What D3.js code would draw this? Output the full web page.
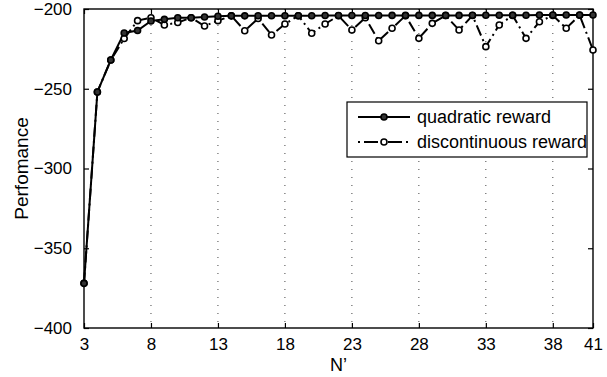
<!DOCTYPE html>
<html lang="en">
  <head>
    <meta charset="utf-8">
    <title>Performance vs N'</title>
    <script src="https://cdnjs.cloudflare.com/ajax/libs/d3/7.8.5/d3.min.js"></script>
<style>
  body { margin: 0; background: #fff; }
  svg { display: block; font-family: "Liberation Sans", Arial, Helvetica, sans-serif; }
  .tick-label { font-size: 17px; fill: #000; }
  .axis-label { font-size: 18px; fill: #000; }
  .legend-text { font-size: 18px; fill: #000; }
</style>
  </head>
  <body>
<div id="graph"></div>

<script type="text/javascript">
// N' values on the x axis
const nPrime = [3, 4, 5, 6, 7, 8, 9, 10, 11, 12, 13, 14, 15, 16, 17, 18, 19, 20, 21, 22,
                23, 24, 25, 26, 27, 28, 29, 30, 31, 32, 33, 34, 35, 36, 37, 38, 39, 40, 41];

// quadratic reward (solid, filled markers)
const quadratic = [-372, -252, -232, -215, -213.5, -207.5, -206.5, -205.5, -205.5, -205,
                   -204.5, -204.3, -204.3, -204.2, -204.2, -204.2, -204.2, -204.2, -204.1, -204.1,
                   -204.1, -204.1, -204.1, -204, -204, -204, -204, -204, -204, -203.9,
                   -203.9, -203.9, -203.9, -203.9, -203.8, -203.8, -203.8, -203.8, -203.8];

// discontinuous reward (dash-dot, open markers)
const discontinuous = [-372, -252, -232, -218.5, -207.3, -205.5, -210, -208.5, -205.5, -210.7,
                       -207.3, -204.3, -213.6, -206, -216.3, -209.4, -204.2, -215.2, -209.4, -204.2,
                       -213.2, -205.5, -219.9, -212.1, -204.2, -218.4, -209, -204.1, -213.2, -204.1,
                       -223.6, -210, -204, -218.4, -208, -204, -212.1, -203.9, -225.7];

const xTicks = [3, 8, 13, 18, 23, 28, 33, 38, 41];
const yTicks = [-400, -350, -300, -250, -200];
const seriesNames = ["quadratic reward", "discontinuous reward"];

const full_w = 607, full_h = 377;
const margin = {top: 9, right: 14, bottom: 49, left: 84};
const w = full_w - margin.left - margin.right;
const h = full_h - margin.top - margin.bottom;
const dashDot = "11,4,2,4";

const svg = d3.select("#graph").append("svg")
  .attr("width", full_w)
  .attr("height", full_h);

const xScale = d3.scaleLinear().domain([3, 41]).range([margin.left, margin.left + w]);
const yScale = d3.scaleLinear().domain([-400, -200]).range([margin.top + h, margin.top]);

// vertical dotted grid
svg.append("g")
  .selectAll("line")
  .data(xTicks.filter(t => t != 3 && t != 41))
  .enter().append("line")
  .attr("x1", d => xScale(d)).attr("x2", d => xScale(d))
  .attr("y1", margin.top).attr("y2", margin.top + h)
  .attr("stroke", "#444")
  .attr("stroke-width", 1)
  .attr("stroke-dasharray", "1,7");

// bottom axis (inward ticks)
const xAxis = d3.axisBottom(xScale).tickValues(xTicks).tickSizeInner(-5).tickSizeOuter(0).tickPadding(10);
const gx = svg.append("g")
  .attr("transform", "translate(0," + (margin.top + h) + ")")
  .call(xAxis);
// top ticks
const gxt = svg.append("g")
  .attr("transform", "translate(0," + margin.top + ")")
  .call(d3.axisTop(xScale).tickValues(xTicks).tickSizeInner(-5).tickSizeOuter(0).tickFormat(""));

// left axis
const yAxis = d3.axisLeft(yScale).tickValues(yTicks).tickSizeInner(-5).tickSizeOuter(0).tickPadding(12)
  .tickFormat(d => d3.format("d")(d).replace("-", "\u2212"));
const gy = svg.append("g")
  .attr("transform", "translate(" + margin.left + ",0)")
  .call(yAxis);
const gyr = svg.append("g")
  .attr("transform", "translate(" + (margin.left + w) + ",0)")
  .call(d3.axisRight(yScale).tickValues(yTicks).tickSizeInner(-5).tickSizeOuter(0).tickFormat(""));

[gx, gxt, gy, gyr].forEach(g => {
  g.select(".domain").remove();
  g.selectAll(".tick line").attr("stroke", "#000").attr("stroke-width", 1.2);
  g.selectAll(".tick text").attr("class", "tick-label").attr("font-size", null).attr("font-family", null);
});

// box
svg.append("rect")
  .attr("x", margin.left).attr("y", margin.top)
  .attr("width", w).attr("height", h)
  .attr("fill", "none")
  .attr("stroke", "#000")
  .attr("stroke-width", 1.4);

// axis labels
svg.append("text")
  .attr("x", margin.left + w / 2)
  .attr("y", 371)
  .attr("text-anchor", "middle")
  .attr("class", "axis-label")
  .text("N\u2019");

svg.append("text")
  .attr("transform", "translate(28," + (margin.top + h / 2) + ") rotate(-90)")
  .attr("text-anchor", "middle")
  .attr("class", "axis-label")
  .style("font-size", "19px")
  .text("Perfomance");

// series
const line = d3.line().x(d => xScale(d[0])).y(d => yScale(d[1]));
const quadPts = nPrime.map((n, i) => [n, quadratic[i]]);
const discPts = nPrime.map((n, i) => [n, discontinuous[i]]);

svg.append("path")
  .datum(discPts)
  .attr("d", line)
  .attr("fill", "none")
  .attr("stroke", "#000")
  .attr("stroke-width", 2)
  .attr("stroke-dasharray", dashDot);

svg.append("path")
  .datum(quadPts)
  .attr("d", line)
  .attr("fill", "none")
  .attr("stroke", "#000")
  .attr("stroke-width", 2);

svg.selectAll(".disc")
  .data(discPts)
  .enter().append("circle")
  .attr("class", "disc")
  .attr("cx", d => xScale(d[0]))
  .attr("cy", d => yScale(d[1]))
  .attr("r", 3)
  .attr("fill", "#fff")
  .attr("stroke", "#000")
  .attr("stroke-width", 1.6);

svg.selectAll(".quad")
  .data(quadPts)
  .enter().append("circle")
  .attr("class", "quad")
  .attr("cx", d => xScale(d[0]))
  .attr("cy", d => yScale(d[1]))
  .attr("r", 3)
  .attr("fill", "#333")
  .attr("stroke", "#000")
  .attr("stroke-width", 1.6);

// legend
const legend = svg.append("g").attr("transform", "translate(347,102)");
legend.append("rect")
  .attr("width", 240).attr("height", 55)
  .attr("fill", "#fff")
  .attr("stroke", "#000")
  .attr("stroke-width", 1.2);

seriesNames.forEach((name, i) => {
  const yy = 15 + i * 25;
  legend.append("line")
    .attr("x1", 11).attr("x2", 63)
    .attr("y1", yy).attr("y2", yy)
    .attr("stroke", "#000")
    .attr("stroke-width", 2)
    .attr("stroke-dasharray", i == 0 ? null : "2,4,14,10,14,4,2");
  legend.append("circle")
    .attr("cx", 37).attr("cy", yy)
    .attr("r", 3)
    .attr("fill", i == 0 ? "#333" : "#fff")
    .attr("stroke", "#000")
    .attr("stroke-width", 1.6);
  legend.append("text")
    .attr("x", 70).attr("y", yy)
    .attr("dy", "0.35em")
    .attr("class", "legend-text")
    .text(name);
});
</script>
</body>
</html>
